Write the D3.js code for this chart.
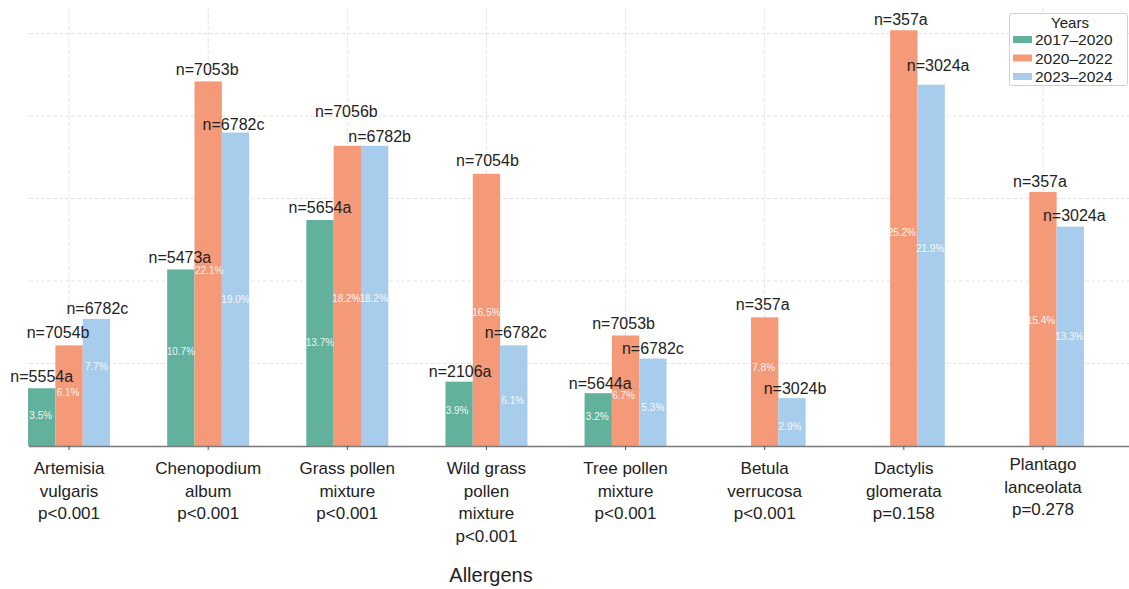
<!DOCTYPE html>
<html>
<head>
<meta charset="utf-8">
<script src="https://cdn.jsdelivr.net/npm/d3@7"></script>
<style>
  html, body { margin: 0; padding: 0; background: #fff; }
  svg { display: block; font-family: "Liberation Sans", Arial, sans-serif; }
</style>
</head>
<body>
<svg id="chart" width="1129" height="589"></svg>
<script>
// Allergen categories (axis label lines) and test p-values
const categories = ["Artemisia vulgaris", "Chenopodium album", "Grass pollen mixture", "Wild grass pollen mixture",
                    "Tree pollen mixture", "Betula verrucosa", "Dactylis glomerata", "Plantago lanceolata"];
const categoryLines = [["Artemisia", "vulgaris"], ["Chenopodium", "album"], ["Grass pollen", "mixture"],
                       ["Wild grass", "pollen", "mixture"], ["Tree pollen", "mixture"], ["Betula", "verrucosa"],
                       ["Dactylis", "glomerata"], ["Plantago", "lanceolata"]];
const pValues = ["p<0.001", "p<0.001", "p<0.001", "p<0.001", "p<0.001", "p<0.001", "p=0.158", "p=0.278"];

// Periods
const series = ["2017–2020", "2020–2022", "2023–2024"];

// Sensitisation rate (%) per period
const values2017 = [3.5, 10.7, 13.7, 3.9, 3.2, null, null, null];
const values2020 = [6.1, 22.1, 18.2, 16.5, 6.7, 7.8, 25.2, 15.4];
const values2023 = [7.7, 19.0, 18.2, 6.1, 5.3, 2.9, 21.9, 13.3];

// Sample sizes with significance letters
const n2017 = ["n=5554a", "n=5473a", "n=5654a", "n=2106a", "n=5644a", null, null, null];
const n2020 = ["n=7054b", "n=7053b", "n=7056b", "n=7054b", "n=7053b", "n=357a", "n=357a", "n=357a"];
const n2023 = ["n=6782c", "n=6782c", "n=6782b", "n=6782c", "n=6782c", "n=3024b", "n=3024a", "n=3024a"];

const axisTitle = "Allergens";
const legendTitle = "Years";
const gridTicks = [5, 10, 15, 20, 25];

const seriesValues = [values2017, values2020, values2023];
const seriesN = [n2017, n2020, n2023];
const colors = ["#62b19c", "#f49a78", "#a8cdec"];

const rows = [];
categories.forEach((c, i) => {
  series.forEach((s, j) => {
    const v = seriesValues[j][i];
    if (v != null) rows.push({ cat: c, ci: i, ser: s, si: j, value: v, n: seriesN[j][i] });
  });
});

// Per-label text nudges (px) to keep labels from colliding
const nNudge = {
  "0-0": [0, 12], "0-1": [-11, 13], "0-2": [1, 11],
  "1-0": [-1, 12], "1-1": [-1, 12], "1-2": [-2, 8],
  "2-0": [0, 13], "2-1": [-1, 34], "2-2": [5, 9],
  "3-0": [1, 10], "3-1": [1, 13], "3-2": [2, 13],
  "4-0": [2, 10], "4-1": [-2, 12], "4-2": [0, 10],
  "5-1": [-2, 13], "5-2": [3, 10],
  "6-1": [-3, 11], "6-2": [7, 19],
  "7-1": [-3, 11], "7-2": [4, 11]
};
const pctNudge = {
  "0-0": [-1, -2], "0-1": [-1, -3], "0-2": [0, -16],
  "1-0": [0, -6], "1-1": [1, 7], "1-2": [0, 10],
  "2-0": [0, 9], "2-1": [-1, 3], "2-2": [-1, 3],
  "3-0": [-2, -3], "3-1": [0, 3], "3-2": [-1, 5],
  "4-0": [-1, -3], "4-1": [-2, 5], "4-2": [0, 5],
  "5-1": [-1, -14], "5-2": [-2, 4],
  "6-1": [-2, -6], "6-2": [-1, -17],
  "7-1": [-2, 1], "7-2": [-1, 0]
};

const svg = d3.select("#chart");
const plotLeft = 29, plotRight = 1129, plotTop = 8, plotBottom = 446;

const x0 = d3.scaleBand().domain(categories).range([-0.5, 1112.5]).paddingInner(0).paddingOuter(0);
const x1 = d3.scaleBand().domain(series).range([-41, 41]);
const y = d3.scaleLinear().domain([0, 26.55]).range([plotBottom, plotTop]);
const cx = c => x0(c) + x0.bandwidth() / 2;

// Grid
const grid = svg.append("g").attr("stroke", "#e4e4e4").attr("stroke-width", 1).attr("stroke-dasharray", "4,2");
grid.selectAll("line.h").data(gridTicks).join("line").attr("class", "h")
  .attr("x1", plotLeft).attr("x2", plotRight).attr("y1", d => y(d)).attr("y2", d => y(d));
grid.selectAll("line.v").data(categories).join("line").attr("class", "v")
  .attr("x1", d => cx(d)).attr("x2", d => cx(d)).attr("y1", plotTop).attr("y2", plotBottom);

// Bars
svg.append("g").selectAll("rect").data(rows).join("rect")
  .attr("x", d => cx(d.cat) + x1(d.ser))
  .attr("width", x1.bandwidth())
  .attr("y", d => y(d.value))
  .attr("height", d => y(0) - y(d.value))
  .attr("fill", d => colors[d.si]);

// Baseline and ticks
svg.append("line").attr("x1", plotLeft).attr("x2", plotRight).attr("y1", plotBottom + 0.5).attr("y2", plotBottom + 0.5)
  .attr("stroke", "#7a7a7a").attr("stroke-width", 1.6);
svg.append("g").selectAll("line").data(categories).join("line")
  .attr("x1", d => cx(d)).attr("x2", d => cx(d)).attr("y1", plotBottom).attr("y2", plotBottom + 4)
  .attr("stroke", "#555").attr("stroke-width", 1);

// Percentage labels inside bars
svg.append("g").selectAll("text").data(rows).join("text")
  .attr("x", d => cx(d.cat) + x1(d.ser) + x1.bandwidth() / 2 + pctNudge[d.ci + "-" + d.si][0])
  .attr("y", d => (y(d.value) + y(0)) / 2 + pctNudge[d.ci + "-" + d.si][1] + 3.6)
  .attr("text-anchor", "middle").attr("font-size", 10).attr("fill", "#fff").attr("fill-opacity", 0.92)
  .text(d => d.value.toFixed(1) + "%");

// Sample size labels above bars
svg.append("g").selectAll("text").data(rows).join("text")
  .attr("x", d => cx(d.cat) + x1(d.ser) + x1.bandwidth() / 2 + nNudge[d.ci + "-" + d.si][0])
  .attr("y", d => y(d.value) - nNudge[d.ci + "-" + d.si][1] + 5.7)
  .attr("text-anchor", "middle").attr("font-size", 16).attr("fill", "#222")
  .text(d => d.n);

// Category labels
const catG = svg.append("g").attr("font-size", 17).attr("fill", "#222").attr("text-anchor", "middle");
categories.forEach((c, i) => {
  const lines = categoryLines[i].concat([pValues[i]]);
  const shift = i === 7 ? -4 : 0;
  const t = catG.append("text").attr("x", cx(c)).attr("y", 474 + shift);
  lines.forEach((ln, k) => t.append("tspan").attr("x", cx(c)).attr("dy", k === 0 ? 0 : 22.5).text(ln));
});

// Axis title
svg.append("text").attr("x", 491).attr("y", 582).attr("text-anchor", "middle")
  .attr("font-size", 20).attr("fill", "#222").text(axisTitle);

// Legend
const lg = svg.append("g");
lg.append("rect").attr("x", 1009.5).attr("y", 13.5).attr("width", 118).attr("height", 72).attr("rx", 2)
  .attr("fill", "#fff").attr("fill-opacity", 0.85).attr("stroke", "#d0d0d0");
lg.append("text").attr("x", 1070).attr("y", 27.5).attr("text-anchor", "middle").attr("font-size", 15).attr("fill", "#222").text(legendTitle);
series.forEach((s, j) => {
  const yy = 39.5 + j * 18.5;
  lg.append("rect").attr("x", 1013).attr("y", yy - 3.5).attr("width", 19).attr("height", 7).attr("fill", colors[j]);
  lg.append("text").attr("x", 1035).attr("y", yy + 5.5).attr("font-size", 15.5).attr("fill", "#222").text(s);
});
</script>
</body>
</html>
